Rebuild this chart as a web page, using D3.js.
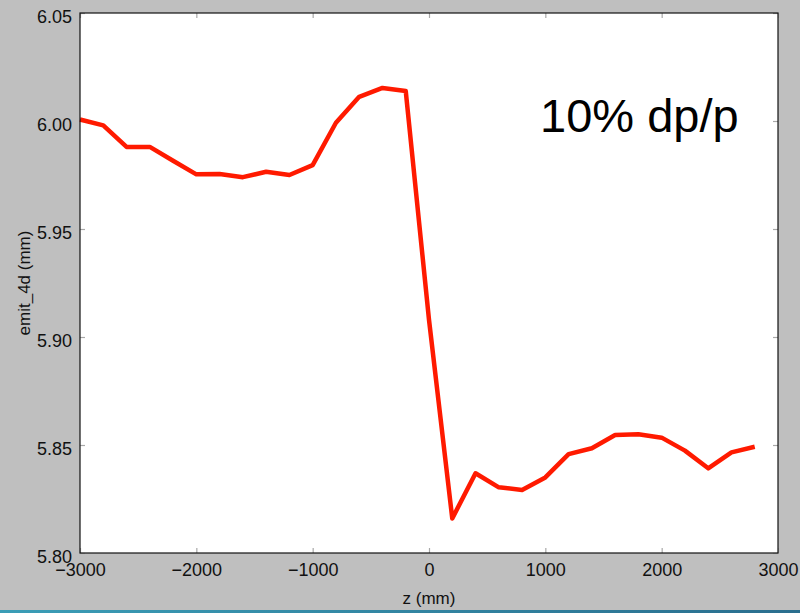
<!DOCTYPE html>
<html>
<head>
<meta charset="utf-8">
<script src="https://cdn.jsdelivr.net/npm/d3@7"></script>
<style>
  html, body { margin: 0; padding: 0; background: #bfbfbf; }
  svg { display: block; }
</style>
</head>
<body>
<svg id="chart" width="800" height="613"></svg>
<script>
// Beam 4D emittance along z
const zValues = [-3000, -2800, -2600, -2400, -2200, -2000, -1800, -1600, -1400, -1200,
                 -1000, -800, -600, -400, -200, 0, 200, 400, 600, 800,
                 1000, 1200, 1400, 1600, 1800, 2000, 2200, 2400, 2600, 2800];
const emitValues = [6.0007, 5.998, 5.988, 5.988, 5.9816, 5.9753, 5.9755, 5.974, 5.9765, 5.975,
                    5.9796, 5.9992, 6.0112, 6.0153, 6.0139, 5.908, 5.816, 5.8369, 5.8304, 5.8292,
                    5.835, 5.8458, 5.8485, 5.8546, 5.855, 5.8534, 5.8474, 5.8392, 5.8466, 5.8492];
const xTicks = [-3000, -2000, -1000, 0, 1000, 2000, 3000];
const yTicks = [5.80, 5.85, 5.90, 5.95, 6.00, 6.05];
const annotation = "10% dp/p";

const svg = d3.select("#chart");
const W = 800, H = 613;
const plot = { left: 80, right: 778, top: 13, bottom: 553 };

// page background and bottom accent strip
svg.append("rect").attr("width", W).attr("height", H).attr("fill", "#bfbfbf");
const grad = svg.append("defs").append("linearGradient").attr("id", "strip");
grad.append("stop").attr("offset", "0%").attr("stop-color", "#3b9db6");
grad.append("stop").attr("offset", "100%").attr("stop-color", "#2a6e8e");
svg.append("rect").attr("x", 0).attr("y", 610).attr("width", W).attr("height", 3)
  .attr("fill", "url(#strip)");

const x = d3.scaleLinear().domain([-3000, 3000]).range([plot.left, plot.right]);
const y = d3.scaleLinear().domain([5.80, 6.05]).range([plot.bottom, plot.top]);

// plot area
svg.append("rect")
  .attr("x", plot.left).attr("y", plot.top)
  .attr("width", plot.right - plot.left).attr("height", plot.bottom - plot.top)
  .attr("fill", "#ffffff");

const font = "Liberation Sans, Arial, Helvetica, sans-serif";
const tickLen = 5;
const tickColor = "#a8a8a8";

// inward ticks on all four sides
function styleAxis(g) {
  g.select(".domain").remove();
  g.selectAll(".tick line").attr("stroke", tickColor).attr("stroke-width", 1.2);
  g.selectAll(".tick text").attr("fill", "#111").style("font-family", font).style("font-size", "18px");
}

const xFmt = d => d < 0 ? "\u2212" + Math.abs(d) : String(d);

svg.append("g")
  .attr("transform", `translate(0,${plot.bottom})`)
  .call(d3.axisBottom(x).tickValues(xTicks).tickFormat(xFmt).tickSizeInner(-tickLen).tickSizeOuter(0).tickPadding(10))
  .call(styleAxis);

svg.append("g")
  .attr("transform", `translate(0,${plot.top})`)
  .call(d3.axisTop(x).tickValues(xTicks).tickFormat("").tickSizeInner(-tickLen).tickSizeOuter(0))
  .call(styleAxis);

const yAxisG = svg.append("g")
  .attr("transform", `translate(${plot.left},0)`)
  .call(d3.axisLeft(y).tickValues(yTicks).tickFormat(d3.format(".2f")).tickSizeInner(-tickLen).tickSizeOuter(0).tickPadding(8))
  .call(styleAxis);
yAxisG.selectAll(".tick text").attr("dy", "0.54em");

svg.append("g")
  .attr("transform", `translate(${plot.right},0)`)
  .call(d3.axisRight(y).tickValues(yTicks).tickFormat("").tickSizeInner(-tickLen).tickSizeOuter(0))
  .call(styleAxis);

// data line
const line = d3.line().x((d, i) => x(zValues[i])).y(d => y(d));
svg.append("path")
  .datum(emitValues)
  .attr("fill", "none")
  .attr("stroke", "#ff1a00")
  .attr("stroke-width", 4.5)
  .attr("stroke-linejoin", "round")
  .attr("stroke-linecap", "butt")
  .attr("d", line);

// frame
svg.append("rect")
  .attr("x", plot.left).attr("y", plot.top)
  .attr("width", plot.right - plot.left).attr("height", plot.bottom - plot.top)
  .attr("fill", "none").attr("stroke", "#111").attr("stroke-width", 1.2);

// axis titles
svg.append("text")
  .attr("x", (plot.left + plot.right) / 2).attr("y", 604)
  .attr("text-anchor", "middle")
  .style("font-family", font).style("font-size", "17px").attr("fill", "#111")
  .text("z (mm)");

svg.append("text")
  .attr("transform", `translate(30,${(plot.top + plot.bottom) / 2}) rotate(-90)`)
  .attr("text-anchor", "middle")
  .style("font-family", font).style("font-size", "17px").attr("fill", "#111")
  .text("emit_4d (mm)");

// annotation
svg.append("text")
  .attr("x", 540).attr("y", 132)
  .style("font-family", font).style("font-size", "47px").attr("fill", "#000")
  .text(annotation);
</script>
</body>
</html>
